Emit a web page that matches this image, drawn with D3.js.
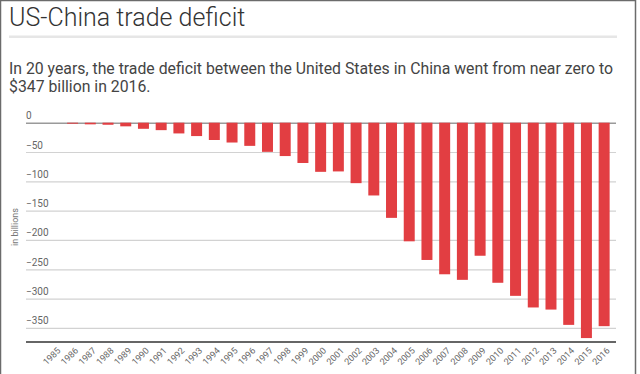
<!DOCTYPE html>
<html><head><meta charset="utf-8">
<script src="https://cdn.jsdelivr.net/npm/d3@7"></script>
<style>
html,body{margin:0;padding:0;background:#fff;}
svg{display:block;font-family:Roboto,"Noto Sans",sans-serif;}
</style></head><body>
<svg id="c" width="640" height="374"></svg>
<script>
const years = ["1985","1986","1987","1988","1989","1990","1991","1992","1993","1994","1995","1996","1997","1998","1999","2000","2001","2002","2003","2004","2005","2006","2007","2008","2009","2010","2011","2012","2013","2014","2015","2016"];
const deficit = [0,-1.7,-2.8,-3.5,-6.2,-10.4,-12.7,-18.3,-22.8,-29.5,-33.8,-39.5,-49.7,-56.9,-68.7,-83.8,-83.1,-103.1,-124.1,-162.3,-202.3,-234.1,-258.5,-268.0,-226.9,-273.0,-295.3,-315.1,-318.7,-344.8,-367.3,-347.0];
const yTicks = [0,-50,-100,-150,-200,-250,-300,-350];

const svg = d3.select("#c");
// frame
svg.append("rect").attr("x",0.5).attr("y",0.5).attr("width",635).attr("height",400)
  .attr("fill","none").attr("stroke","#6b6b6b").attr("stroke-width",1.5);

svg.append("text").attr("x",9).attr("y",26).attr("font-size",25).attr("fill","#333").attr("font-weight",300)
  .text("US-China trade deficit");
svg.append("rect").attr("x",9).attr("y",35.5).attr("width",608).attr("height",2.5).attr("fill","#e6e6e6");
const sub = svg.append("text").attr("font-size",15.8).attr("fill","#444");
sub.append("tspan").attr("x",9).attr("y",74).text("In 20 years, the trade deficit between the United States in China went from near zero to");
sub.append("tspan").attr("x",9).attr("y",92).text("$347 billion in 2016.");

const x = d3.scaleBand().domain(years).range([46,613]).paddingInner(0.38).paddingOuter(0.19);
const y = d3.scaleLinear().domain([0,-374]).range([122.7,342]);

const gx0 = 26, gx1 = 616;
const yAxis = d3.axisLeft(y).tickValues(yTicks).tickSize(-(gx1-gx0)).tickFormat(d3.format("d"));
const ga = svg.append("g").attr("transform",`translate(${gx0},0)`).call(yAxis);
ga.select(".domain").remove();
ga.selectAll(".tick line").attr("stroke",d=>d===0?"#9a9a9a":"#d2d2d2").attr("stroke-width",d=>d===0?1.5:1.2);
ga.selectAll(".tick text").attr("x",0).attr("dy",-4).attr("text-anchor","start")
  .attr("font-size",10).attr("fill","#666").attr("font-family","Roboto, sans-serif");

svg.append("g").selectAll("rect").data(years).join("rect")
  .attr("x",d=>x(d)).attr("width",x.bandwidth())
  .attr("y",(d,i)=>y(0)).attr("height",(d,i)=>y(deficit[i])-y(0))
  .attr("fill","#e23e42");

svg.append("line").attr("x1",gx0).attr("x2",gx1).attr("y1",342).attr("y2",342)
  .attr("stroke","#666").attr("stroke-width",2);

const xAxis = d3.axisBottom(x).tickSize(0);
const gb = svg.append("g").attr("transform","translate(0,343)").call(xAxis);
gb.select(".domain").remove();
gb.selectAll(".tick text").attr("text-anchor","end").attr("font-size",9).attr("fill","#666")
  .attr("font-family","Roboto, sans-serif")
  .attr("transform","translate(4,6) rotate(-45)").attr("dy","0.35em").attr("y",0).attr("x",0);

svg.append("text").attr("transform","translate(18,227) rotate(-90)").attr("text-anchor","middle")
  .attr("font-size",9).attr("fill","#777").text("in billions");
</script></body></html>
